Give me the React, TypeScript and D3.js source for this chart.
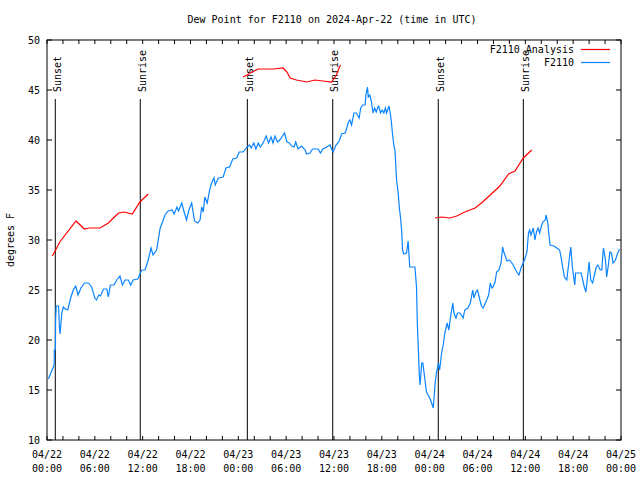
import React from "react";
import * as d3 from "d3";

const title = "Dew Point for F2110 on 2024-Apr-22 (time in UTC)";
const yLabel = "degrees F";
const yTicks = [10, 15, 20, 25, 30, 35, 40, 45, 50];
const xTickHours = [0, 6, 12, 18, 24, 30, 36, 42, 48, 54, 60, 66, 72];
const xTickDates = ["04/22", "04/22", "04/22", "04/22", "04/23", "04/23", "04/23", "04/23", "04/24", "04/24", "04/24", "04/24", "04/25"];
const xTickTimes = ["00:00", "06:00", "12:00", "18:00", "00:00", "06:00", "12:00", "18:00", "00:00", "06:00", "12:00", "18:00", "00:00"];

const sunHours = [1.04, 11.7, 25.13, 35.84, 49.08, 59.75];
const sunLabels = ["Sunset", "Sunrise", "Sunset", "Sunrise", "Sunset", "Sunrise"];

const obsHours = [0.17,0.8,0.9,0.92,1.05,1.08,1.15,1.45,1.55,1.65,1.85,2.05,2.3,2.6,3.0,3.3,3.6,3.9,4.25,4.7,5.2,5.6,6.0,6.2,6.5,6.7,7.1,7.5,7.7,7.95,8.4,8.75,9.15,9.45,9.8,10.2,10.5,10.8,11.4,11.7,11.9,12.3,12.7,13.05,13.3,13.75,14.2,14.45,14.8,15.2,15.7,15.95,16.3,16.5,16.9,17.2,17.5,17.8,18.15,18.5,18.9,19.2,19.4,19.6,19.8,20.1,20.4,20.65,20.95,21.1,21.5,22.1,22.45,22.9,23.3,23.8,24.1,24.6,25.1,25.4,25.6,25.95,26.2,26.5,26.75,27.1,27.5,27.8,28.1,28.35,28.6,28.9,29.2,29.45,29.8,30.1,30.4,30.7,31.0,31.2,31.5,31.9,32.4,32.55,33.0,33.3,34.0,34.3,34.6,35.1,35.5,35.75,35.9,36.25,36.5,36.7,36.95,37.4,37.6,37.8,38.0,38.2,38.5,38.8,39.15,39.35,39.6,39.9,40.0,40.2,40.3,40.5,40.7,40.9,41.1,41.3,41.5,41.6,41.85,42.05,42.25,42.45,42.6,42.9,43.05,43.2,43.35,43.5,43.65,43.85,44.05,44.2,44.35,44.5,44.6,44.75,45.1,45.3,45.5,46.15,46.35,46.45,46.6,46.7,46.8,47.0,47.15,47.3,47.6,47.8,48.0,48.2,48.45,48.7,48.85,49.1,49.25,49.5,49.7,49.9,50.2,50.4,50.6,50.9,51.05,51.3,51.5,51.8,52.2,52.4,52.8,53.1,53.4,53.55,53.8,54.0,54.3,54.5,54.7,55.0,55.4,55.6,55.8,55.95,56.2,56.4,56.7,56.95,57.15,57.3,57.7,58.0,58.4,58.6,59.0,59.2,59.5,59.9,60.2,60.4,60.55,60.7,61.0,61.2,61.4,61.6,61.8,62.05,62.2,62.5,62.6,62.8,63.1,63.6,64.3,64.5,64.7,64.9,65.2,65.45,65.7,65.9,66.2,66.3,66.8,67.0,67.4,67.6,67.8,68.0,68.2,68.45,68.6,68.9,69.1,69.4,69.6,69.7,69.8,70.05,70.2,70.45,70.6,70.8,71.0,71.3,71.5,71.8];
const obsValues = [16.1,17.3,17.6,19.0,19.0,21.9,23.4,23.4,21.3,20.6,22.7,23.3,23.1,23.0,24.3,25.0,25.4,24.5,25.2,25.7,25.7,25.3,24.2,24.0,24.5,24.4,25.1,25.1,24.3,25.5,25.5,26.0,26.4,25.5,26.0,26.0,25.5,26.0,26.1,26.7,27.0,27.0,28.0,29.2,28.5,29.0,31.2,31.7,32.5,32.9,33.0,32.6,33.3,32.9,33.7,32.8,32.0,33.0,33.7,31.9,31.7,32.0,33.3,32.8,34.3,33.7,35.0,35.7,36.2,35.5,36.2,36.3,37.2,37.3,38.1,38.2,38.8,38.8,39.3,39.5,39.2,39.7,39.1,39.7,39.3,39.7,40.4,39.7,40.3,39.7,40.4,39.8,40.0,40.3,40.7,39.8,39.7,39.4,39.3,39.8,39.1,39.4,39.0,38.6,38.7,39.1,39.1,38.7,39.1,39.3,39.5,39.0,38.8,39.5,39.7,40.0,40.6,40.7,41.2,41.8,42.0,41.5,42.7,42.7,42.2,43.2,43.5,43.5,44.5,45.3,44.3,44.5,43.8,42.7,43.2,42.8,43.3,43.4,42.7,43.0,42.7,43.2,42.7,43.4,42.7,41.8,40.5,39.5,39.0,36.0,34.7,33.2,32.2,30.8,29.0,28.6,28.7,29.9,27.3,27.3,25.3,21.7,18.7,16.5,15.5,17.7,17.7,16.7,14.8,14.5,14.2,13.8,13.2,15.8,16.7,17.7,17.0,18.7,19.5,20.7,21.7,21.0,22.2,23.7,22.7,22.2,22.7,22.7,22.2,23.0,23.2,23.7,25.0,24.2,24.8,25.0,24.0,23.4,23.2,23.7,24.5,25.7,25.2,25.3,25.8,26.8,27.0,27.7,29.3,28.8,27.9,28.0,27.6,27.3,26.7,26.5,27.3,28.0,28.8,30.7,31.0,30.5,31.2,30.0,30.8,31.2,30.7,31.5,31.8,32.0,32.5,31.8,29.5,29.4,29.0,28.2,27.2,26.3,26.0,27.7,29.3,27.3,25.5,26.7,26.7,26.7,25.3,24.8,26.3,27.8,26.0,25.7,26.3,27.3,27.5,27.0,27.0,28.3,29.2,28.0,26.3,27.7,28.8,28.7,27.7,28.0,28.5,29.1];

const anaHours1 = [0.67,1.08,1.6,3.64,4.68,5.3,6.65,7.7,8.45,9.0,9.65,10.7,11.65,12.7];
const anaValues1 = [28.4,29.0,29.8,31.9,31.1,31.2,31.2,31.7,32.3,32.7,32.8,32.6,33.8,34.6];
const anaHours2 = [24.6,25.1,25.7,26.5,28.4,29.6,30.1,30.5,31.3,32.6,33.6,34.6,35.7,36.3,36.8];
const anaValues2 = [46.3,46.5,46.8,47.1,47.1,47.2,46.8,46.2,46.0,45.8,46.0,45.9,45.8,46.5,47.5];
const anaHours3 = [48.67,49.5,50.55,51.4,52.4,53.7,54.5,55.6,56.8,57.9,58.7,59.75,60.8];
const anaValues3 = [32.2,32.3,32.2,32.4,32.8,33.2,33.7,34.5,35.4,36.6,36.9,38.2,39.0];

const FONT = "'DejaVu Sans Mono', monospace";
const BLUE = "#0a84ff";
const RED = "#ff0000";

export default function App() {
  const left = 47, right = 621, top = 40, bottom = 440;
  const x = d3.scaleLinear().domain([0, 72]).range([left, right]);
  const y = d3.scaleLinear().domain([10, 50]).range([bottom, top]);
  const line = d3.line<[number, number]>().x((d) => x(d[0])).y((d) => y(d[1]));
  const pts = (h: number[], v: number[]) => h.map((hh, i) => [hh, v[i]] as [number, number]);
  const minorHours = d3.range(0, 73, 2);
  const tl = 4;

  return (
    <svg width={640} height={480} style={{ position: "absolute", left: 0, top: 0, background: "#fff" }} fontFamily={FONT} fontSize={10}>
      <rect x={0} y={0} width={640} height={480} fill="#fff" />
      <text x={332} y={23} textAnchor="middle">{title}</text>
      <text transform={`translate(14,240) rotate(-90)`} textAnchor="middle">{yLabel}</text>

      {/* y ticks */}
      {yTicks.map((t) => (
        <g key={"y" + t}>
          <line x1={left} x2={left + 5} y1={y(t)} y2={y(t)} stroke="#000" />
          <line x1={right} x2={right - 5} y1={y(t)} y2={y(t)} stroke="#000" />
          <text x={40} y={y(t) + 3.5} textAnchor="end">{t}</text>
        </g>
      ))}
      {/* x ticks */}
      {minorHours.map((h) => (
        <g key={"m" + h}>
          <line x1={x(h)} x2={x(h)} y1={bottom} y2={bottom - tl} stroke="#000" />
          <line x1={x(h)} x2={x(h)} y1={top} y2={top + tl} stroke="#000" />
        </g>
      ))}
      {xTickHours.map((h, i) => (
        <g key={"x" + h}>
          <text x={x(h)} y={458} textAnchor="middle">{xTickDates[i]}</text>
          <text x={x(h)} y={472} textAnchor="middle">{xTickTimes[i]}</text>
        </g>
      ))}

      {/* sun lines */}
      {sunHours.map((h, i) => (
        <g key={"s" + i}>
          <line x1={x(h)} x2={x(h)} y1={99} y2={bottom} stroke="#000" />
          <text transform={`translate(${x(h) + 5.5},92) rotate(-90)`}>{sunLabels[i]}</text>
        </g>
      ))}

      {/* series */}
      <path d={line(pts(anaHours1, anaValues1)) || ""} fill="none" stroke={RED} strokeWidth={1.2} />
      <path d={line(pts(anaHours2, anaValues2)) || ""} fill="none" stroke={RED} strokeWidth={1.2} />
      <path d={line(pts(anaHours3, anaValues3)) || ""} fill="none" stroke={RED} strokeWidth={1.2} />
      <path d={line(pts(obsHours, obsValues)) || ""} fill="none" stroke={BLUE} strokeWidth={1.2} />

      {/* legend */}
      <text x={574} y={53} textAnchor="end">F2110 Analysis</text>
      <line x1={581} x2={610} y1={49.5} y2={49.5} stroke={RED} strokeWidth={1.2} />
      <text x={574} y={66} textAnchor="end">F2110</text>
      <line x1={581} x2={610} y1={62.5} y2={62.5} stroke={BLUE} strokeWidth={1.2} />

      {/* frame */}
      <rect x={left} y={top} width={right - left} height={bottom - top} fill="none" stroke="#000" />
    </svg>
  );
}
